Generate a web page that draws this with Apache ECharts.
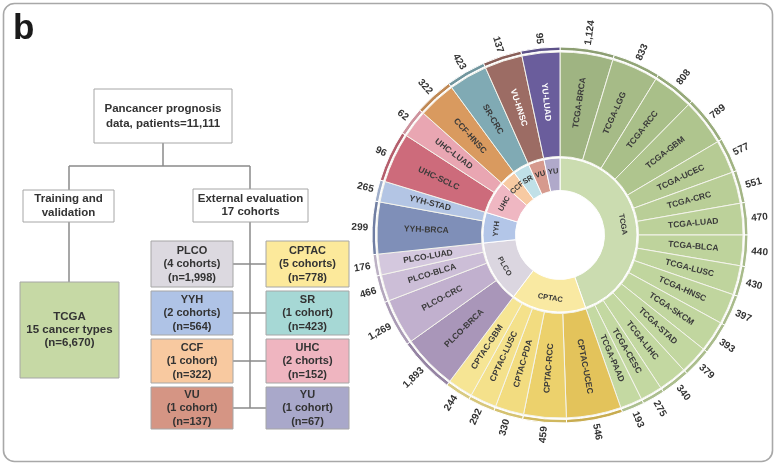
<!DOCTYPE html>
<html><head><meta charset="utf-8">
<script src="https://cdn.jsdelivr.net/npm/echarts@6/dist/echarts.min.js"></script>
<style>html,body{margin:0;padding:0;background:#fff}#c{width:779px;height:465px}</style>
</head><body><div id="c"></div>
<script>
// ---------------- data ----------------
const groups = ['TCGA','CPTAC','PLCO','YYH','UHC','CCF','SR','VU','YU'];
const cohortNames = [
  'TCGA-BRCA','TCGA-LGG','TCGA-RCC','TCGA-GBM','TCGA-UCEC','TCGA-CRC','TCGA-LUAD','TCGA-BLCA',
  'TCGA-LUSC','TCGA-HNSC','TCGA-SKCM','TCGA-STAD','TCGA-LIHC','TCGA-CESC','TCGA-PAAD',
  'CPTAC-UCEC','CPTAC-RCC','CPTAC-PDA','CPTAC-LUSC','CPTAC-GBM',
  'PLCO-BRCA','PLCO-CRC','PLCO-BLCA','PLCO-LUAD',
  'YYH-BRCA','YYH-STAD','UHC-SCLC','UHC-LUAD','CCF-HNSC','SR-CRC','VU-HNSC','YU-LUAD'];
const cohortCounts = [1124,833,808,789,577,551,470,440,430,397,393,379,340,275,193,
  546,459,330,292,244, 1893,1269,466,176, 299,265, 96,62, 322, 423, 137, 95];
// angular share of each slice (degrees)
const cohortArc = [16.8,14.8,13.0,14.8,10.6,10.0,10.0,9.7,9.3,9.7,9.8,9.0,9.1,7.0,7.0,
  17.4,13.5,9.1,8.4,8.0, 17.5,14.5,8.4,6.6, 16.4,6.6, 15.9,8.8, 12.0, 12.3, 12.0, 12.0];

const flowTopText = 'Pancancer prognosis\ndata, patients=11,111';
const flowTrainText = 'Training and\nvalidation';
const flowExtText = 'External evaluation\n17 cohorts';
const tcgaBoxText = 'TCGA\n15 cancer types\n(n=6,670)';
const sourceNames = ['PLCO','CPTAC','YYH','SR','CCF','UHC','VU','YU'];
const sourceCohorts = ['4 cohorts','5 cohorts','2 cohorts','1 cohort','1 cohort','2 chorts','1 cohort','1 cohort'];
const sourceN = ['1,998','778','564','423','322','152','137','67'];

// ---------------- styles ----------------
const FONT = "'Liberation Sans', Arial, sans-serif";
const cohortColors = [
  '#9fb482','#a6bb87','#a9bf89','#afc58e','#b6cb94','#b9ce97','#bcd19a','#bed39c',
  '#bfd49d','#c0d59e','#c1d69f','#c2d7a0','#c3d8a1','#c3d8a1','#c4d9a2',
  '#e3c35b','#ecd16c','#f2dc80','#f4e18b','#f6e594',
  '#a996b9','#c1b0ce','#ccbed7','#d4c8de',
  '#7f8fb8','#b3c5e4','#cd6b7b','#e9a6b2','#d99a5f','#80aab4','#9c6c64','#6a5d9c'];
const groupColors = ['#cbdcb0','#f9e9a2','#dbd6e0','#b3c6e8','#efb7c2','#f7caa2','#c0e0e7','#d69a8e','#b0a9ca'];
const whiteLabels = ['VU-HNSC','YU-LUAD'];
const sourceColors = ['#dcd9e0','#fce99b','#afc3e6','#a6d8d5','#f8c9a0','#efb5c0','#d59584','#a9a8ca'];

function darken(hex, f){
  const n = parseInt(hex.slice(1),16);
  const r = Math.round(((n>>16)&255)*f), g = Math.round(((n>>8)&255)*f), b = Math.round((n&255)*f);
  return 'rgb('+r+','+g+','+b+')';
}
const groupOf = n => n.split('-')[0];

const innerData = groups.map((g,gi)=>({
  name:g,
  value: cohortNames.reduce((s,n,i)=> s + (groupOf(n)===g ? cohortArc[i] : 0), 0),
  itemStyle:{color:groupColors[gi]}
}));
const outerData = cohortNames.map((n,i)=>({
  name:n, value:cohortArc[i], itemStyle:{color:cohortColors[i]},
  label:{color: whiteLabels.includes(n) ? '#ffffff' : '#3a3a3a'}
}));
const rimData = cohortNames.map((n,i)=>({
  name:n, value:cohortArc[i], count:cohortCounts[i], itemStyle:{color:darken(cohortColors[i],0.88)}
}));

const CX = 560, CY = 235;

// ---------------- flow chart graphics ----------------
const G = [];
const LINE = '#8a8a8a';
function box(x,y,w,h,fill,text,fs,lh){
  G.push({type:'rect', shape:{x:x,y:y,width:w,height:h}, style:{fill:fill, stroke:'#a6a6a6', lineWidth:1}, z:2});
  G.push({type:'text', x:x+w/2, y:y+h/2, style:{text:text, align:'center', verticalAlign:'middle',
    textAlign:'center', textVerticalAlign:'middle',
    font:'bold '+fs+'px '+FONT, lineHeight:lh, fill:'#333'}, z:3});
}
function line(x1,y1,x2,y2){
  G.push({type:'line', shape:{x1:x1,y1:y1,x2:x2,y2:y2}, style:{stroke:LINE, lineWidth:1.5}, z:1});
}
// frame
G.push({type:'rect', shape:{x:3.5,y:3.5,width:769,height:458,r:11}, style:{fill:'none', stroke:'#a8a8a8', lineWidth:1.6}, z:0});
G.push({type:'text', x:13, y:12, style:{text:'b', font:'bold 35px '+FONT, fill:'#1a1a1a'}, z:3});
line(163,143,163,166); line(69,166,250,166); line(69,166,69,190); line(250,166,250,189);
line(69,222,69,282); line(250,222,250,408);
box(94,89,138,54,'#fff',flowTopText,11.5,15);
box(23,190,91,32,'#fff',flowTrainText,11.5,13.5);
box(193,189,115,33,'#fff',flowExtText,11.5,13.5);
box(20,282,99,96,'#c6d9a5',tcgaBoxText,11.5,13);
const rowsY = [241,291,339,387], rowsH = [46,44,44,42];
sourceNames.forEach((s,i)=>{
  const r = Math.floor(i/2), c = i%2;
  const x = c===0 ? 151 : 266, w = c===0 ? 82 : 83;
  box(x, rowsY[r], w, rowsH[r], sourceColors[i], s+'\n('+sourceCohorts[i]+')\n(n='+sourceN[i]+')', 11, 13.5);
});
rowsY.forEach((y,r)=> line(233, y+rowsH[r]/2, 266, y+rowsH[r]/2));

// ---------------- chart ----------------
const chart = echarts.init(document.getElementById('c'), null, {renderer:'canvas'});
const common = {type:'pie', center:[CX,CY], startAngle:90, clockwise:true, silent:true,
  avoidLabelOverlap:false, animation:false, labelLine:{show:false}, labelLayout:{hideOverlap:false}};
chart.setOption({
  backgroundColor:'#fff',
  graphic:{elements:G},
  series:[
    Object.assign({}, common, {
      radius:[44.5,77], data:innerData,
      itemStyle:{borderColor:'#fff', borderWidth:1},
      label:{position:'inside', rotate:'tangential', fontSize:7.5, fontWeight:'bold', fontFamily:FONT, color:'#3a3a3a'}
    }),
    Object.assign({}, common, {
      radius:[78.5,183], data:outerData,
      itemStyle:{borderColor:'#f4f4ec', borderWidth:1},
      label:{position:'inside', rotate:'radial', fontSize:8.5, fontWeight:'bold', fontFamily:FONT}
    }),
    Object.assign({}, common, {
      radius:[184.5,188], data:rimData,
      itemStyle:{borderColor:'#fff', borderWidth:1},
      labelLine:{show:false, length:4, length2:0},
      label:{position:'outside', rotate:'radial', distanceToLabelLine:0, fontSize:10, fontWeight:'bold',
        fontFamily:FONT, color:'#333',
        formatter: p => p.data.count.toLocaleString('en-US')}
    })
  ]
});
</script></body></html>
